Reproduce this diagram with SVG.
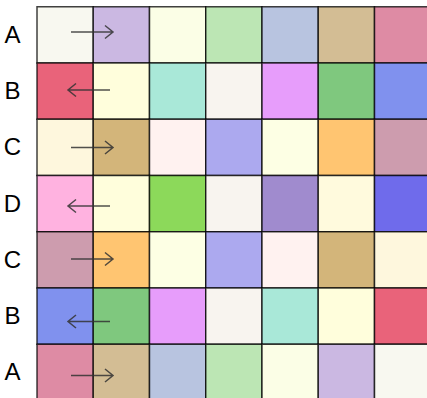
<svg xmlns="http://www.w3.org/2000/svg" width="427" height="398" viewBox="0 0 427 398">
<style>
.c{stroke:#000;stroke-opacity:0.75;stroke-width:1.5}
.lbl{font-family:"Liberation Sans",Arial,sans-serif;font-size:24px;fill:#000;text-anchor:middle}
.ar{fill:none;stroke:#333;stroke-opacity:0.85;stroke-width:1.5}
</style>
<rect width="427" height="398" fill="#fff"/>
<g id="row1">
<rect class="c" x="37" y="6.75" width="56.25" height="56.25" fill="#F8F8F0"/>
<rect class="c" x="93.25" y="6.75" width="56.25" height="56.25" fill="#CBB8E2"/>
<rect class="c" x="149.5" y="6.75" width="56.25" height="56.25" fill="#FBFEE6"/>
<rect class="c" x="205.75" y="6.75" width="56.25" height="56.25" fill="#BCE6B4"/>
<rect class="c" x="262" y="6.75" width="56.25" height="56.25" fill="#B8C4E0"/>
<rect class="c" x="318.25" y="6.75" width="56.25" height="56.25" fill="#D3BD94"/>
<rect class="c" x="374.5" y="6.75" width="56.25" height="56.25" fill="#DE8BA4"/>
</g>
<g id="row2">
<rect class="c" x="37" y="63" width="56.25" height="56.25" fill="#E9637A"/>
<rect class="c" x="93.25" y="63" width="56.25" height="56.25" fill="#FFFEDC"/>
<rect class="c" x="149.5" y="63" width="56.25" height="56.25" fill="#A9E8D8"/>
<rect class="c" x="205.75" y="63" width="56.25" height="56.25" fill="#F8F4EF"/>
<rect class="c" x="262" y="63" width="56.25" height="56.25" fill="#E79DFB"/>
<rect class="c" x="318.25" y="63" width="56.25" height="56.25" fill="#7FC87E"/>
<rect class="c" x="374.5" y="63" width="56.25" height="56.25" fill="#8091EE"/>
</g>
<g id="row3">
<rect class="c" x="37" y="119.25" width="56.25" height="56.25" fill="#FEF7DD"/>
<rect class="c" x="93.25" y="119.25" width="56.25" height="56.25" fill="#D3B57A"/>
<rect class="c" x="149.5" y="119.25" width="56.25" height="56.25" fill="#FFF2F0"/>
<rect class="c" x="205.75" y="119.25" width="56.25" height="56.25" fill="#ACA9EF"/>
<rect class="c" x="262" y="119.25" width="56.25" height="56.25" fill="#FDFFE4"/>
<rect class="c" x="318.25" y="119.25" width="56.25" height="56.25" fill="#FFC571"/>
<rect class="c" x="374.5" y="119.25" width="56.25" height="56.25" fill="#CD9CAE"/>
</g>
<g id="row4">
<rect class="c" x="37" y="175.5" width="56.25" height="56.25" fill="#FFB2E0"/>
<rect class="c" x="93.25" y="175.5" width="56.25" height="56.25" fill="#FFFEDC"/>
<rect class="c" x="149.5" y="175.5" width="56.25" height="56.25" fill="#8CD95A"/>
<rect class="c" x="205.75" y="175.5" width="56.25" height="56.25" fill="#F8F4EF"/>
<rect class="c" x="262" y="175.5" width="56.25" height="56.25" fill="#A08BCE"/>
<rect class="c" x="318.25" y="175.5" width="56.25" height="56.25" fill="#FFFADD"/>
<rect class="c" x="374.5" y="175.5" width="56.25" height="56.25" fill="#6F6BEB"/>
</g>
<g id="row5">
<rect class="c" x="37" y="231.75" width="56.25" height="56.25" fill="#CD9CAE"/>
<rect class="c" x="93.25" y="231.75" width="56.25" height="56.25" fill="#FFC571"/>
<rect class="c" x="149.5" y="231.75" width="56.25" height="56.25" fill="#FDFFE4"/>
<rect class="c" x="205.75" y="231.75" width="56.25" height="56.25" fill="#ACA9EF"/>
<rect class="c" x="262" y="231.75" width="56.25" height="56.25" fill="#FFF2F0"/>
<rect class="c" x="318.25" y="231.75" width="56.25" height="56.25" fill="#D3B57A"/>
<rect class="c" x="374.5" y="231.75" width="56.25" height="56.25" fill="#FEF7DD"/>
</g>
<g id="row6">
<rect class="c" x="37" y="288" width="56.25" height="56.25" fill="#8091EE"/>
<rect class="c" x="93.25" y="288" width="56.25" height="56.25" fill="#7FC87E"/>
<rect class="c" x="149.5" y="288" width="56.25" height="56.25" fill="#E79DFB"/>
<rect class="c" x="205.75" y="288" width="56.25" height="56.25" fill="#F8F4EF"/>
<rect class="c" x="262" y="288" width="56.25" height="56.25" fill="#A9E8D8"/>
<rect class="c" x="318.25" y="288" width="56.25" height="56.25" fill="#FFFEDC"/>
<rect class="c" x="374.5" y="288" width="56.25" height="56.25" fill="#E9637A"/>
</g>
<g id="row7">
<rect class="c" x="37" y="344.25" width="56.25" height="56.25" fill="#DE8BA4"/>
<rect class="c" x="93.25" y="344.25" width="56.25" height="56.25" fill="#D3BD94"/>
<rect class="c" x="149.5" y="344.25" width="56.25" height="56.25" fill="#B8C4E0"/>
<rect class="c" x="205.75" y="344.25" width="56.25" height="56.25" fill="#BCE6B4"/>
<rect class="c" x="262" y="344.25" width="56.25" height="56.25" fill="#FBFEE6"/>
<rect class="c" x="318.25" y="344.25" width="56.25" height="56.25" fill="#CBB8E2"/>
<rect class="c" x="374.5" y="344.25" width="56.25" height="56.25" fill="#F8F8F0"/>
</g>
<g id="labels">
<text class="lbl" x="12.5" y="43">A</text>
<text class="lbl" x="12.5" y="99">B</text>
<text class="lbl" x="12.5" y="155">C</text>
<text class="lbl" x="12.5" y="212">D</text>
<text class="lbl" x="12.5" y="268">C</text>
<text class="lbl" x="12.5" y="324">B</text>
<text class="lbl" x="12.5" y="380">A</text>
</g>
<g id="connectors">
<path class="ar" d="M71 32H113M105 25.5L113 32L105 38.5"/>
<path class="ar" d="M110 90H68M76 83.5L68 90L76 96.5"/>
<path class="ar" d="M71 147.5H113M105 141L113 147.5L105 154"/>
<path class="ar" d="M110 206H68M76 199.5L68 206L76 212.5"/>
<path class="ar" d="M71 259H113M105 252.5L113 259L105 265.5"/>
<path class="ar" d="M110 321.5H68M76 315L68 321.5L76 328"/>
<path class="ar" d="M71 375.5H113M105 369L113 375.5L105 382"/>
</g>
</svg>
